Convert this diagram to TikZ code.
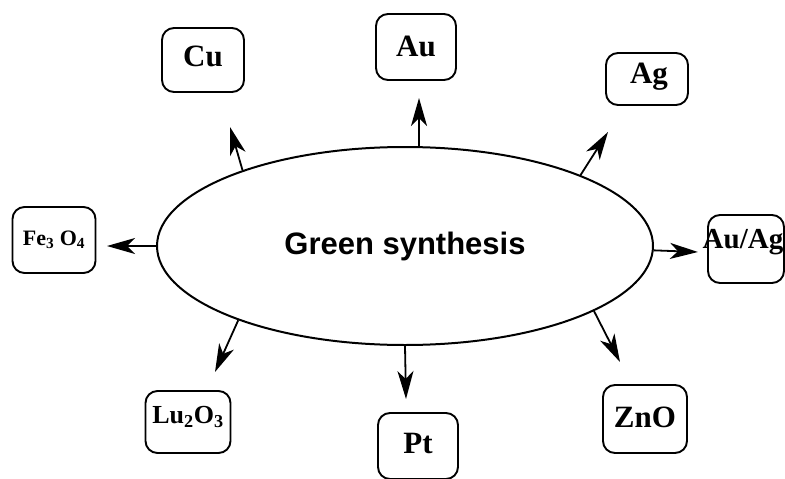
\documentclass[tikz,border=0pt]{standalone}
\usepackage{fontspec}
\setmainfont{Liberation Serif}
\newfontfamily\gsfont{Liberation Sans}
\usetikzlibrary{shapes.geometric,arrows.meta}
\begin{document}
\begin{tikzpicture}[x=1pt,y=-1pt,
 box/.style={draw,line width=1.9pt,rounded corners=12pt,inner sep=0pt},
 lab/.style={font=\fontsize{31}{31}\selectfont\bfseries},
 arr/.style={line width=1.8pt,-{Stealth[length=28pt,width=16pt,inset=8pt]}}]
\useasboundingbox (0,0) rectangle (785,479);
\node[draw,ellipse,line width=2pt,minimum width=496pt,minimum height=198pt,inner sep=0pt,font=\gsfont\bfseries\fontsize{31}{31}\selectfont] (gs) at (405,246) {Green synthesis};
% boxes
\node[box,minimum width=82pt,minimum height=64pt] (cu) at (203,60) {};
\node[lab] (cutxt) at (203,56) {Cu};
\node[box,minimum width=80pt,minimum height=66pt] (au) at (416,47) {};
\node[lab] (autxt) at (416,46) {Au};
\node[box,minimum width=82pt,minimum height=52pt] (ag) at (647,79) {};
\node[lab] (agtxt) at (649,77) {Ag};
\node[box,minimum width=83pt,minimum height=66pt,font=\fontsize{22}{22}\selectfont\bfseries] (fe) at (54,240) {Fe\textsubscript{3} O\textsubscript{4}};
\node[box,minimum width=76pt,minimum height=68pt] (auagbox) at (746,249) {};
\node[font=\fontsize{29}{29}\selectfont\bfseries] (auag) at (743,242) {Au/Ag};
\node[box,minimum width=85pt,minimum height=62pt] (lu) at (188,422) {};
\node[font=\fontsize{26}{26}\selectfont\bfseries] (lutxt) at (188,417) {Lu\textsubscript{2}O\textsubscript{3}};
\node[box,minimum width=80pt,minimum height=66pt] (pt) at (418,446) {};
\node[lab] (pttxt) at (418,443) {Pt};
\node[box,minimum width=84pt,minimum height=68pt] (zno) at (645,419) {};
\node[lab] (znotxt) at (645,417) {ZnO};
% arrow tips
\coordinate (cutip) at (230,127);
\coordinate (autip) at (419,98);
\coordinate (agtip) at (608,132);
\coordinate (fetip) at (107,246);
\coordinate (auagtip) at (698,252);
\coordinate (lutip) at (215,372);
\coordinate (pttip) at (406,399);
\coordinate (znotip) at (620,362);
% arrows
\draw[arr] (gs.155) -- (cutip);
\draw[arr] (gs.82) -- (autip);
\draw[arr] (gs.22) -- (agtip);
\draw[arr] (gs.west) -- (fetip);
\draw[arr] (gs.-1) -- (auagtip);
\draw[arr] (gs.204) -- (lutip);
\draw[arr] (gs.270) -- (pttip);
\draw[arr] (gs.-19.5) -- (znotip);
\end{tikzpicture}
\end{document}
